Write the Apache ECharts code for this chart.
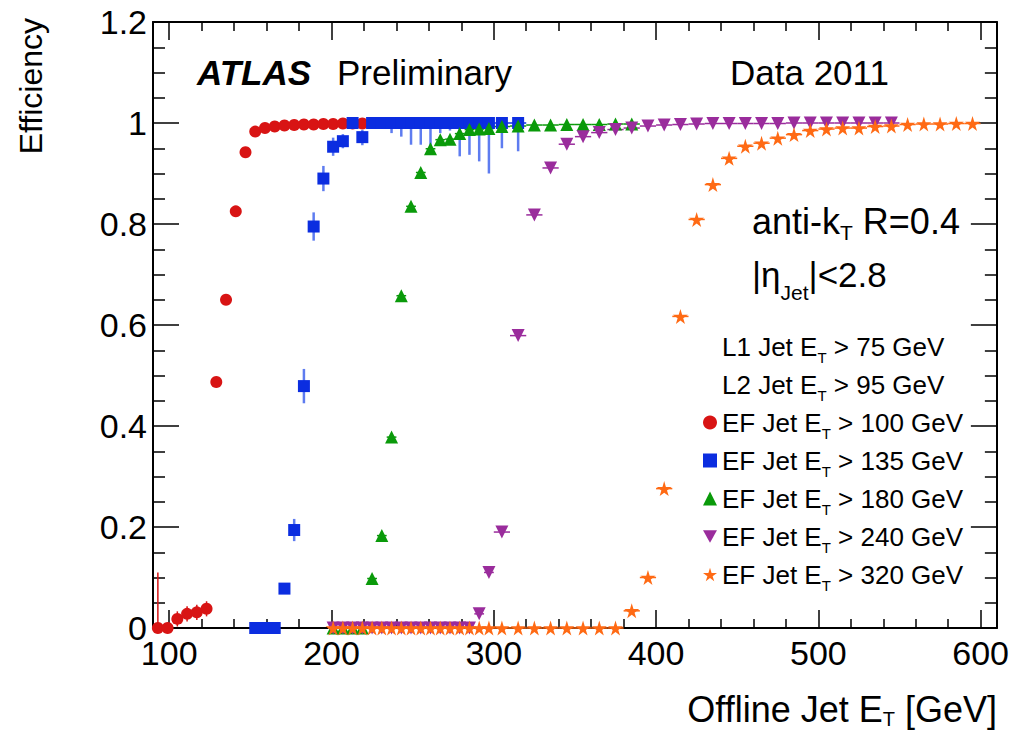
<!DOCTYPE html>
<html><head><meta charset="utf-8">
<script src="https://cdn.jsdelivr.net/npm/echarts@6/dist/echarts.min.js"></script>
<style>html,body{margin:0;padding:0;background:#fff}#c{width:1012px;height:731px}</style>
</head><body><div id="c"></div>
<script>
const FONT = '"Liberation Sans", Arial, Helvetica, sans-serif';

// ---- data ----
const redX = [93,99,105,111,117,123,129,135,141,147,153,159,165,171,177,183,189,195,201,207,213,219];
const redY = [0,0,0.018,0.028,0.031,0.038,0.487,0.650,0.825,0.942,0.983,0.990,0.993,0.995,0.996,0.997,0.997,0.998,0.998,0.999,0.999,0.999];
const redErrLo = [0,0,0.015,0.015,0.015,0.015,0.008,0.008,0.006,0.005,0.003,0.002,0,0,0,0,0,0,0,0,0,0];
const redErrHi = [0.11,0.01,0.015,0.015,0.015,0.015,0.008,0.008,0.006,0.005,0.003,0.002,0,0,0,0,0,0,0,0,0,0];

const blueX = [153,159,165,171,177,183,189,195,201,207,213,219,225,231,237,243,249,255,261,267,273,279,285,291,297,305,315];
const blueY = [0,0,0,0.078,0.194,0.479,0.795,0.890,0.953,0.964,1.0,0.972,1,1,1,1,1,1,1,1,1,1,1,1,1,1,1];
const blueErrLo = [0,0,0,0.010,0.022,0.034,0.028,0.025,0.018,0.014,0.008,0.016,0.005,0.010,0.020,0.027,0.043,0.043,0.045,0.020,0.015,0.066,0.063,0.076,0.100,0.050,0.056];
const blueErrHi = [0.004,0.004,0.004,0.010,0.022,0.034,0.028,0.025,0.018,0.014,0,0.014,0,0,0,0,0,0,0,0,0,0,0,0,0,0,0];

const greenX = [201,207,213,219,225,231,237,243,249,255,261,267,273,279,285,291,297,305,315,325,335,345,355,365,375,385];
const greenY = [0,0,0,0,0.098,0.183,0.378,0.658,0.835,0.902,0.949,0.967,0.968,0.979,0.987,0.988,0.989,0.993,0.994,0.996,0.996,0.997,0.997,0.997,0.998,0.998];

const purpleX = [201,207,213,219,225,231,237,243,249,255,261,267,273,279,285,291,297,305,315,325,335,345,355,365,375,385,395,405,415,425,435,445,455,465,475,485,495,505,515,525,535,545];
const purpleY = [0,0,0,0,0,0,0,0,0,0,0,0,0,0,0,0.028,0.110,0.190,0.579,0.818,0.911,0.958,0.973,0.981,0.987,0.990,0.994,0.996,0.997,0.998,0.999,0.999,0.999,0.999,0.999,1,1,1,1,1,1,1];

const orangeX = [201,207,213,219,225,231,237,243,249,255,261,267,273,279,285,291,297,305,315,325,335,345,355,365,375,385,395,405,415,425,435,445,455,465,475,485,495,505,515,525,535,545,555,565,575,585,595];
const orangeY = [0,0,0,0,0,0,0,0,0,0,0,0,0,0,0,0,0,0,0,0,0,0,0,0,0,0.034,0.100,0.276,0.617,0.809,0.878,0.930,0.954,0.960,0.970,0.977,0.985,0.988,0.990,0.990,0.993,0.994,0.997,0.998,0.998,0.999,0.999];

const xMajorTicks = [100,200,300,400,500,600];
const legendKeys = ['L1','L2','EF100','EF135','EF180','EF240','EF320'];
const legendHead = ['L1 Jet E','L2 Jet E','EF Jet E','EF Jet E','EF Jet E','EF Jet E','EF Jet E'];
const legendTail = [' > 75 GeV',' > 95 GeV',' > 100 GeV',' > 135 GeV',' > 180 GeV',' > 240 GeV',' > 320 GeV'];

// ---- styling ----
const COL = {red:'#d81414', blue:'#0b2de0', green:'#0a9a0a', purple:'#9a2c9c', orange:'#ff6a14'};
const STAR = 'path://M50,0 L61,35 L98,35 L68,57 L79,91 L50,70 L21,91 L32,57 L2,35 L39,35 Z';
const DOWNTRI = 'path://M0,0 L100,0 L50,90 Z';

const xMinorTicks = [];
xMajorTicks.slice(0, -1).forEach(m => { for (let k = 20; k < 100; k += 20) xMinorTicks.push(m + k); });

function halfBin(x) { return x < 300 ? 3 : 5; }
function errData(xs, ys, lo, hi) {
  return xs.map((x, i) => [x, ys[i], x - halfBin(x), x + halfBin(x),
    ys[i] - (lo ? lo[i] : 0), ys[i] + (hi ? hi[i] : 0)]);
}
function errRender(color, hw, vw, vcolor) {
  return function (params, api) {
    const x = api.value(0), y = api.value(1);
    const p0 = api.coord([api.value(2), y]), p1 = api.coord([api.value(3), y]);
    const q0 = api.coord([x, api.value(4)]), q1 = api.coord([x, api.value(5)]);
    const ch = [{type:'line', shape:{x1:p0[0],y1:p0[1],x2:p1[0],y2:p1[1]}, style:{stroke:color, lineWidth:hw}}];
    if (Math.abs(q1[1] - q0[1]) > 0.5)
      ch.push({type:'line', shape:{x1:q0[0],y1:q0[1],x2:q1[0],y2:q1[1]}, style:{stroke:vcolor || color, lineWidth:vw}});
    return {type:'group', children: ch};
  };
}
function pts(xs, ys) { return xs.map((x, i) => [x, ys[i]]); }

function makeSet(name, xs, ys, lo, hi, color, symbol, size, vw, vcolor) {
  return [
    {type:'custom', name:name + ' errors', xAxisIndex:0, yAxisIndex:0, renderItem: errRender(color, 1.5, vw, vcolor),
     itemStyle:{color:color}, data: errData(xs, ys, lo, hi), silent:true, clip:false, legendHoverLink:false},
    {type:'scatter', name:name, xAxisIndex:0, yAxisIndex:0, data: pts(xs, ys), symbol:symbol, symbolSize:size,
     itemStyle:{color:color, opacity:1}, silent:true}
  ];
}

const series = [
  {type:'scatter', name:'L1', data:[]},
  {type:'scatter', name:'L2', data:[]},
  ...makeSet('EF100', redX, redY, redErrLo, redErrHi, COL.red, 'circle', 12, 1.5),
  ...makeSet('EF135', blueX, blueY, blueErrLo, blueErrHi, COL.blue, 'rect', 12, 2.5, 'rgba(40,80,235,0.75)'),
  ...makeSet('EF180', greenX, greenY, null, null, COL.green, 'triangle', 13, 1.5),
  ...makeSet('EF240', purpleX, purpleY, null, null, COL.purple, DOWNTRI, 13, 1.5),
  ...makeSet('EF320', orangeX, orangeY, null, null, COL.orange, STAR, 15, 1.5)
];

const lineStyle = {color:'#000', width:2};
const tickStyle = {color:'#000', width:1.5};
function xAx(pos, ticks, len, withLine, withLabel) {
  return {type:'value', position:pos, min:90, max:610, gridIndex:0,
    axisLine:{show:withLine, onZero:false, lineStyle:lineStyle},
    axisTick:{show:true, inside:true, length:len, customValues:ticks, lineStyle:tickStyle},
    axisLabel: withLabel ? {show:true, customValues:ticks, fontSize:34, color:'#000', fontFamily:FONT, margin:8} : {show:false},
    splitLine:{show:false}, minorTick:{show:false}};
}
function yAx(pos, withLabel) {
  return {type:'value', position:pos, min:0, max:1.2, interval:0.2, gridIndex:0,
    axisLine:{show:true, onZero:false, lineStyle:lineStyle},
    axisTick:{show:true, inside:true, length:26, lineStyle:tickStyle},
    minorTick:{show:true, splitNumber:4, length:12, lineStyle:tickStyle},
    axisLabel: withLabel ? {show:true, fontSize:34, color:'#000', fontFamily:FONT, margin:6, showMinLabel:true, showMaxLabel:true} : {show:false},
    splitLine:{show:false}, minorSplitLine:{show:false}};
}

const subRich = (main, sub, off, lh) => ({
  m:{fontSize:main, lineHeight:lh, fontFamily:FONT, color:'#000', fill:'#000'},
  s:{fontSize:sub, lineHeight:sub, fontFamily:FONT, color:'#000', fill:'#000', padding:[2*off,0,0,0]}
});

const option = {
  animation:false,
  backgroundColor:'#fff',
  grid:{left:153, right:14, top:22, bottom:103, containLabel:false},
  xAxis:[xAx('bottom', xMajorTicks, 18, true, true), xAx('bottom', xMinorTicks, 9, false, false),
         xAx('top', xMajorTicks, 18, true, false), xAx('top', xMinorTicks, 9, false, false)],
  yAxis:[yAx('left', true), yAx('right', false)],
  legend:{
    orient:'vertical', left:698, top:323, itemWidth:14, itemHeight:14, itemGap:1, selectedMode:false,
    data: legendKeys.map(k => k === 'L1' || k === 'L2' ? {name:k, icon:'none'} : {name:k}),
    formatter: name => { const i = legendKeys.indexOf(name); return '{m|' + legendHead[i] + '}{s|T}{m|' + legendTail[i] + '}'; },
    textStyle:{fontFamily:FONT, fontSize:26, color:'#000', rich: subRich(26, 15, 11, 36)}
  },
  graphic:[
    {type:'text', x:197, y:72, z:10, style:{text:'ATLAS', fontSize:35, fontWeight:'bold', fontStyle:'italic', fontFamily:FONT, fill:'#000', verticalAlign:'middle'}},
    {type:'text', x:337, y:72, z:10, style:{text:'Preliminary', fontSize:35, fontFamily:FONT, fill:'#000', verticalAlign:'middle'}},
    {type:'text', x:730, y:72, z:10, style:{text:'Data 2011', fontSize:35, fontFamily:FONT, fill:'#000', verticalAlign:'middle'}},
    {type:'text', x:752, y:221, z:10, style:{text:'{m|anti-k}{s|T}{m| R=0.4}', verticalAlign:'middle', rich: subRich(36, 21, 11, 42)}},
    {type:'text', x:752, y:274, z:10, style:{text:'{m||η}{s|Jet}{m||<2.8}', verticalAlign:'middle', rich: subRich(35, 21, 18, 42)}},
    {type:'text', x:997, y:709, z:10, style:{text:'{m|Offline Jet E}{s|T}{m| [GeV]}', align:'right', verticalAlign:'middle', rich: subRich(36, 20, 10, 36)}},
    {type:'text', x:31, y:18, z:10, rotation:Math.PI/2, style:{text:'Efficiency', fontSize:32, fontFamily:FONT, fill:'#000', align:'right', verticalAlign:'middle'}}
  ],
  series: series
};

const chart = echarts.init(document.getElementById('c'), null, {renderer:'svg', width:1012, height:731});
chart.setOption(option);
</script>
</body></html>
